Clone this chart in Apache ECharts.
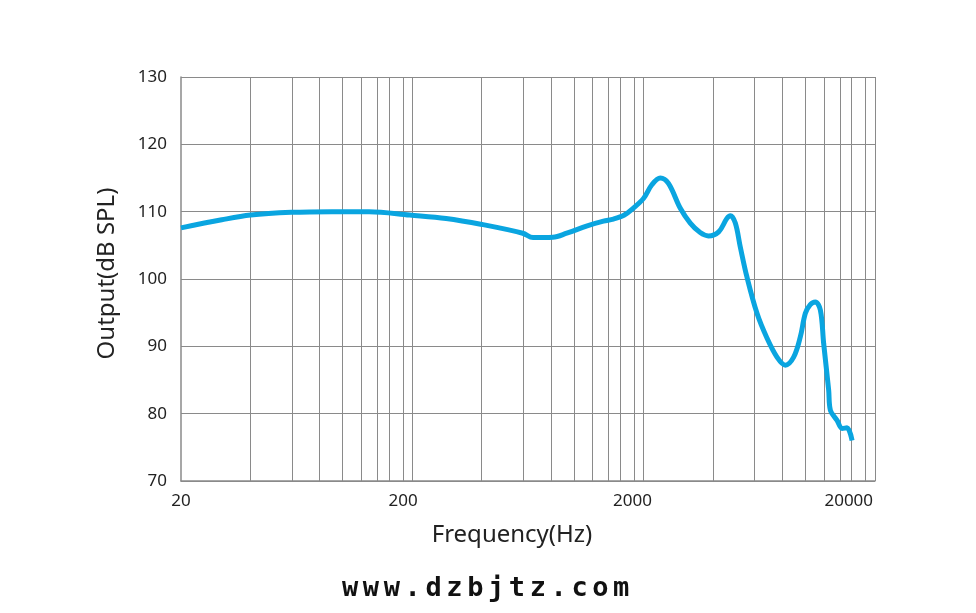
<!DOCTYPE html>
<html>
<head>
<meta charset="utf-8">
<script src="https://cdn.jsdelivr.net/npm/echarts@6/dist/echarts.min.js"></script>
<style>
    html, body { margin: 0; padding: 0; background: #fff; }
    #chart { width: 976px; height: 613px; }
    #site {
        position: absolute; left: 0; top: 570px; width: 976px; text-align: center;
        font-family: "DejaVu Sans Mono", monospace; font-weight: bold; font-size: 27px;
        letter-spacing: 4.6px; color: #111; padding-right: 10px; line-height: 34px;
    }
</style>
</head>
<body>
<div id="chart"></div>
<div id="site">www.dzbjtz.com</div>
<script>
// frequency response
const freqs = [20, 30, 40, 60, 90, 130, 195, 280, 400, 600, 665, 810, 930, 1140, 1340, 1480, 1650, 1800,
    2000, 2170, 2360, 2560, 2880, 3180, 3510, 3810, 4220, 4580, 4740, 4980, 5230, 5590, 6180, 6830,
    7540, 8190, 8900, 9510, 10000, 10500, 11040, 11610, 12000, 12610, 12830, 13710, 14410, 15140, 15920]
const spl = [107.6, 108.8, 109.5, 109.9, 110.0, 110.0, 109.5, 109.0, 108.1, 106.8, 106.15, 106.2, 106.8, 107.9, 108.6, 108.9, 109.5, 110.5,
    112.0, 114.0, 115.0, 114.2, 110.5, 108.3, 106.9, 106.4, 107.0, 109.0, 109.4, 108.3, 104.8, 100.3, 94.9, 91.2,
    88.4, 87.2, 88.4, 91.4, 94.9, 96.2, 96.6, 95.4, 90.4, 83.5, 80.5, 79.0, 77.8, 77.9, 76.0]

const xTicks = [20, 200, 2000, 20000]
const gridFreqs = [40, 60, 80, 100, 120, 140, 160, 180, 200,
    400, 600, 800, 1000, 1200, 1400, 1600, 1800, 2000,
    4000, 6000, 8000, 10000, 12000, 14000, 16000, 18000, 20000]
const yMin = 70, yMax = 130, yStep = 10

const lg = Math.log10
const chart = echarts.init(document.getElementById('chart'), null, { renderer: 'canvas' })

// pick the tick label whose log position is nearest; the original nudges
// the upper decade labels a bit to the left of their grid lines
function tickLabel(v) {
    let idx = 0
    xTicks.forEach((t, i) => { if (Math.abs(lg(t) - v) < Math.abs(lg(xTicks[idx]) - v)) idx = i })
    return '{t' + idx + '|' + xTicks[idx] + '}'
}
const labelFont = { fontFamily: 'Noto Sans', fontSize: 17, color: '#222' }

chart.setOption({
    animation: false,
    grid: { left: 181, right: 101, top: 77, bottom: 132 },
    xAxis: {
        type: 'value',
        min: lg(xTicks[0]),
        max: lg(xTicks[xTicks.length - 1]),
        interval: 1,
        name: 'Frequency(Hz)',
        nameLocation: 'middle',
        nameGap: 42,
        nameTextStyle: { fontFamily: 'Noto Sans', fontSize: 24, color: '#222', padding: [0, 32, 0, 0] },
        axisLine: { lineStyle: { color: '#8a8a8a', width: 1.5 } },
        axisTick: { show: false },
        splitLine: { show: false },
        axisLabel: {
            ...labelFont,
            margin: 12,
            formatter: tickLabel,
            rich: {
                t0: { ...labelFont },
                t1: { ...labelFont, padding: [0, 18, 0, 0] },
                t2: { ...labelFont, padding: [0, 22, 0, 0] },
                t3: { ...labelFont, padding: [0, 52, 0, 0] }
            }
        }
    },
    yAxis: {
        type: 'value',
        min: yMin,
        max: yMax,
        interval: yStep,
        name: 'Output(dB SPL)',
        nameLocation: 'middle',
        nameGap: 62,
        nameTextStyle: { fontFamily: 'Noto Sans', fontSize: 24, color: '#222', padding: [0, 0, 0, 11] },
        axisLine: { show: true, lineStyle: { color: '#8a8a8a', width: 1.5 } },
        axisTick: { show: false },
        splitLine: { lineStyle: { color: '#8a8a8a', width: 1 } },
        axisLabel: { ...labelFont, margin: 14 }
    },
    series: [{
        type: 'line',
        z: 1,
        data: [],
        silent: true,
        markLine: {
            silent: true,
            symbol: 'none',
            label: { show: false },
            lineStyle: { type: 'solid', color: '#8a8a8a', width: 1 },
            data: gridFreqs.map(f => ({ xAxis: lg(f) }))
        }
    }, {
        type: 'line',
        z: 5,
        smooth: 0.35,
        showSymbol: false,
        data: freqs.map((f, i) => [lg(f), spl[i]]),
        lineStyle: { color: '#0aa5e0', width: 5 },
        itemStyle: { color: '#0aa5e0' }
    }]
})
</script>
</body>
</html>
